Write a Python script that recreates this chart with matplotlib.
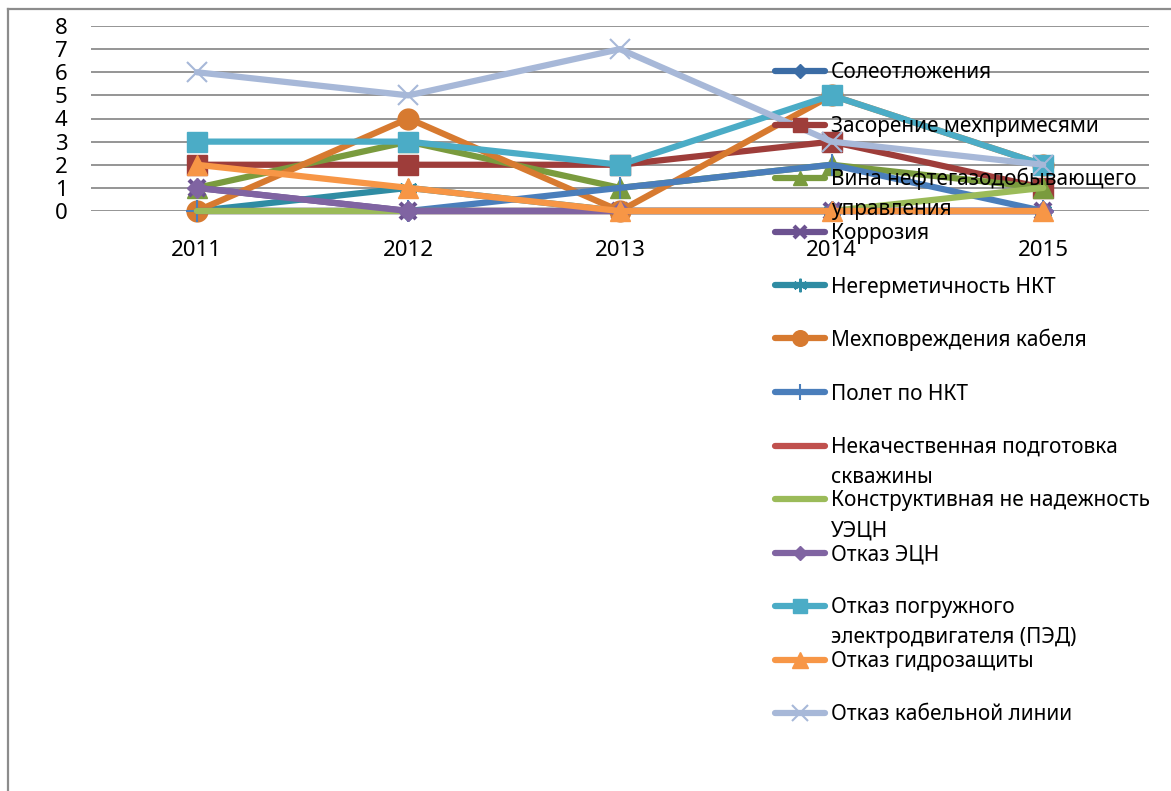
import textwrap
import matplotlib
matplotlib.use("Agg")
import matplotlib.pyplot as plt
from matplotlib.lines import Line2D

plt.rcParams['font.family'] = ['Noto Sans', 'DejaVu Sans']

years = ["2011", "2012", "2013", "2014", "2015"]

series_names = [
    "Солеотложения",
    "Засорение мехпримесями",
    "Вина нефтегазодобывающего управления",
    "Коррозия",
    "Негерметичность НКТ",
    "Мехповреждения кабеля",
    "Полет по НКТ",
    "Некачественная подготовка скважины",
    "Конструктивная не надежность УЭЦН",
    "Отказ ЭЦН",
    "Отказ погружного электродвигателя (ПЭД)",
    "Отказ гидрозащиты",
    "Отказ кабельной линии",
]

soleotlozheniya = [0, 0, 0, 0, 0]
zasorenie = [2, 2, 2, 3, 1]
vina_ngdu = [1, 3, 1, 2, 1]
korroziya = [1, 0, 0, 0, 0]
negermetichnost = [0, 1, 0, 0, 0]
mekhpovrezhdeniya = [0, 4, 0, 5, 2]
polet_nkt = [0, 0, 1, 2, 0]
nekachestvennaya = [0, 0, 0, 0, 0]
konstruktivnaya = [0, 0, 0, 0, 1]
otkaz_etsn = [1, 0, 0, 0, 0]
otkaz_ped = [3, 3, 2, 5, 2]
otkaz_gidrozashchity = [2, 1, 0, 0, 0]
otkaz_kabelnoy = [6, 5, 7, 3, 2]

series_values = [
    soleotlozheniya, zasorenie, vina_ngdu, korroziya, negermetichnost,
    mekhpovrezhdeniya, polet_nkt, nekachestvennaya, konstruktivnaya,
    otkaz_etsn, otkaz_ped, otkaz_gidrozashchity, otkaz_kabelnoy,
]

# colour, marker, marker size (pt), marker edge width
styles = [
    ("#3B6CA5", "D", 10, 1.0),
    ("#9E3D3A", "s", 14, 1.0),
    ("#7A9B3E", "^", 14, 1.0),
    ("#6C5290", "x", 12, 3.0),
    ("#2F8CA3", (6, 2, 0), 13, 1.5),
    ("#D77A30", "o", 15, 1.0),
    ("#4A7EBB", "+", 16, 1.5),
    ("#C0504D", None, 0, 0),
    ("#9BBB59", None, 0, 0),
    ("#8064A2", "D", 10, 1.0),
    ("#4BACC6", "s", 14, 1.0),
    ("#F79646", "^", 15, 1.0),
    ("#A7B8D8", "x", 15, 1.5),
]

W, H = 1171, 791
fig = plt.figure(figsize=(W / 100, H / 100), dpi=100)


def fx(px):
    return px / W


def fy(py):
    return 1 - py / H


# outer chart frame (top and left edges)
frame_col = "#8C8C8C"
fig.add_artist(Line2D([fx(8), fx(W)], [fy(9), fy(9)], color=frame_col, lw=1.6,
                      transform=fig.transFigure))
fig.add_artist(Line2D([fx(8), fx(8)], [fy(9), fy(H)], color=frame_col, lw=1.6,
                      transform=fig.transFigure))

ax = fig.add_axes([fx(91), fy(211), fx(1149) - fx(91), fy(26) - fy(211)])
ax.set_xlim(-0.5, len(years) - 0.5)
ax.set_ylim(0, 8)
for sp in ax.spines.values():
    sp.set_visible(False)
ax.set_yticks(range(0, 9))
ax.set_xticks(range(len(years)))
ax.set_xticklabels(years)
ax.tick_params(axis="both", length=0, labelsize=16)
ax.tick_params(axis="y", pad=17)
ax.tick_params(axis="x", pad=21)
ax.yaxis.grid(True, color="#8C8C8C", lw=1.3)
ax.set_axisbelow(True)

x = list(range(len(years)))
for name, vals, (col, mk, ms, mew) in zip(series_names, series_values, styles):
    ax.plot(x, vals, color=col, lw=4.5, marker=mk, markersize=ms,
            markeredgewidth=mew, markerfacecolor=col, markeredgecolor=col,
            solid_joinstyle="round", solid_capstyle="round", clip_on=False)

# legend drawn as a column of handles and wrapped labels
leg_top = 71
leg_step = 53.5
line_gap = 30
for i, (name, (col, mk, ms, mew)) in enumerate(zip(series_names, styles)):
    yy = leg_top + i * leg_step
    fig.add_artist(Line2D([fx(775), fx(825)], [fy(yy), fy(yy)], color=col, lw=4.5,
                          solid_capstyle="round", transform=fig.transFigure,
                          zorder=5))
    if mk is not None:
        fig.add_artist(Line2D([fx(800)], [fy(yy)], color=col, marker=mk,
                              markersize=ms * 0.75, markeredgewidth=mew,
                              markerfacecolor=col, markeredgecolor=col,
                              linestyle="none", transform=fig.transFigure,
                              zorder=5))
    for k, part in enumerate(textwrap.wrap(name, 28)):
        fig.text(fx(831), fy(yy + k * line_gap + 7.5), part, fontsize=15,
                 ha="left", va="baseline", color="black", zorder=6)

fig.savefig("out.png", dpi=100)
